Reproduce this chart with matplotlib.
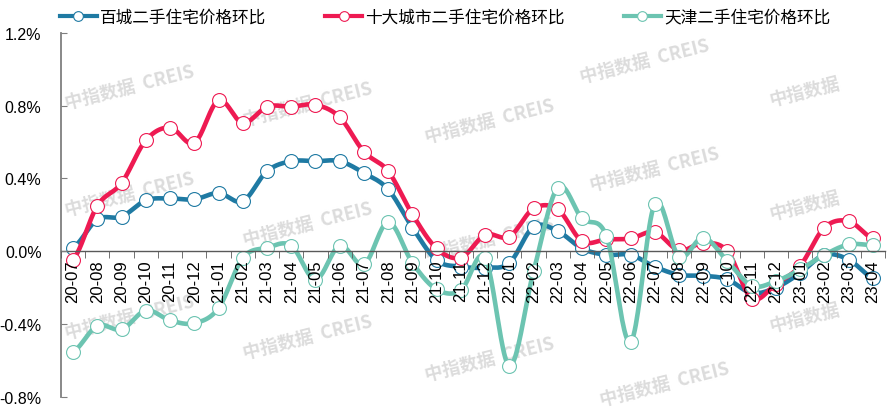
#!/usr/bin/env python3
import numpy as np
import matplotlib
matplotlib.use('Agg')
import matplotlib.pyplot as plt
from matplotlib.lines import Line2D

# month labels (yy-mm)
months = ['20-07', '20-08', '20-09', '20-10', '20-11', '20-12',
          '21-01', '21-02', '21-03', '21-04', '21-05', '21-06',
          '21-07', '21-08', '21-09', '21-10', '21-11', '21-12',
          '22-01', '22-02', '22-03', '22-04', '22-05', '22-06',
          '22-07', '22-08', '22-09', '22-10', '22-11', '22-12',
          '23-01', '23-02', '23-03', '23-04']

# month-on-month change, in %
bai_cheng = [0.02, 0.175, 0.19, 0.28, 0.29, 0.285, 0.32, 0.275, 0.44, 0.495,
             0.495, 0.495, 0.43, 0.34, 0.13, -0.05, -0.085, -0.09, -0.065, 0.135,
             0.11, 0.015, -0.02, -0.02, -0.085, -0.13, -0.135, -0.155, -0.23, -0.2,
             -0.12, -0.02, -0.046, -0.147]
shi_da = [-0.046, 0.25, 0.375, 0.61, 0.68, 0.595, 0.83, 0.705, 0.795, 0.795,
          0.805, 0.737, 0.547, 0.44, 0.203, 0.015, -0.035, 0.09, 0.08, 0.235,
          0.23, 0.055, 0.065, 0.07, 0.105, 0.005, 0.045, 0.0, -0.26, -0.18,
          -0.08, 0.13, 0.165, 0.07]
tianjin = [-0.553, -0.41, -0.43, -0.326, -0.38, -0.396, -0.313, -0.037, 0.019, 0.031,
           -0.156, 0.031, -0.073, 0.16, -0.064, -0.21, -0.215, -0.037, -0.63, -0.11,
           0.35, 0.18, 0.085, -0.5, 0.26, -0.03, 0.075, -0.055, -0.19, -0.165,
           -0.1, -0.02, 0.037, 0.033]

series_names = ['百城二手住宅价格环比', '十大城市二手住宅价格环比', '天津二手住宅价格环比']
colors = ['#1f7aa3', '#ee1a52', '#6cc4b1']

CJK = ['Noto Sans CJK SC', 'DejaVu Sans']
LATIN = 'Liberation Sans'


def smooth(y, n=24):
    """Excel-like smoothed line (Catmull-Rom bezier between points)"""
    y = np.asarray(y, dtype=float)
    xs, ys = [], []
    t = np.linspace(0, 1, n)
    for i in range(len(y) - 1):
        p0 = y[i - 1] if i > 0 else y[i]
        p3 = y[i + 2] if i + 2 < len(y) else y[i + 1]
        p1, p2 = y[i], y[i + 1]
        c1 = p1 + (p2 - p0) / 6
        c2 = p2 - (p3 - p1) / 6
        seg = (1 - t) ** 3 * p1 + 3 * (1 - t) ** 2 * t * c1 + 3 * (1 - t) * t ** 2 * c2 + t ** 3 * p2
        xs.append(i + t)
        ys.append(seg)
    return np.concatenate(xs), np.concatenate(ys)


fig = plt.figure(figsize=(8.88, 4.10), dpi=100)
ax = fig.add_axes([61 / 888, 12.3 / 410, 824 / 888, 363.7 / 410])

# watermark
marks = [(130, 88), (308, 105), (490, 122), (645, 62),
         (130, 195), (308, 225), (490, 240), (655, 170),
         (130, 318), (308, 338), (490, 360), (665, 385)]
for px, py in marks:
    ax.text(px / 888, 1 - py / 410, '中指数据  CREIS', transform=fig.transFigure,
            rotation=14, ha='center', va='center', fontsize=13, fontweight='bold',
            color='#dcdcdc', family=CJK, zorder=1, clip_on=False)
for px, py in [(805, 92), (805, 206), (805, 318)]:
    ax.text(px / 888, 1 - py / 410, '中指数据', transform=fig.transFigure,
            rotation=14, ha='center', va='center', fontsize=13, fontweight='bold',
            color='#dcdcdc', family=CJK, zorder=1, clip_on=False)

x = np.arange(len(months))
handles = []
for vals, name, c in zip([bai_cheng, shi_da, tianjin], series_names, colors):
    sx, sy = smooth(vals)
    ax.plot(sx, sy, color=c, lw=3.3, solid_capstyle='round', zorder=2)
    ax.plot(x, vals, ls='none', marker='o', ms=10, mfc='white', mec=c, mew=0.8, zorder=2)
    handles.append(Line2D([], [], color=c, lw=3, marker='o', ms=7, mfc='white', mec=c, mew=0.8))

ax.set_xlim(-0.5, len(months) - 0.5)
ax.set_ylim(-0.8, 1.2)

ax.spines['top'].set_visible(False)
ax.spines['right'].set_visible(False)
ax.spines['left'].set_color('#7f7f7f')
ax.spines['left'].set_linewidth(1.3)
ax.spines['bottom'].set_position(('data', 0))
ax.spines['bottom'].set_color('#595959')
ax.spines['bottom'].set_linewidth(1.0)
ax.set_axisbelow(False)

ax.set_xticks(x)
ax.set_xticklabels(months, rotation=90, fontsize=12, family=LATIN)
ax.set_xticks(np.arange(-0.5, len(months)), minor=True)
ax.tick_params(axis='x', which='major', length=0, pad=6)
ax.tick_params(axis='x', which='minor', length=5, direction='out', color='#595959')

yt = np.arange(-0.8, 1.21, 0.4)
ax.set_yticks(yt)
ax.set_yticklabels([f'{v:.1f}%' for v in yt], fontsize=11.5, family=LATIN)
ax.tick_params(axis='y', direction='in', length=4, color='#7f7f7f', pad=14)

fig.legend(handles, series_names, loc='center left', bbox_to_anchor=(60 / 888, 1 - 18 / 410),
           ncol=3, frameon=False, borderpad=0, borderaxespad=0, handlelength=2.2,
           handletextpad=0.2, columnspacing=3.55, prop={'family': CJK, 'size': 12})

fig.savefig('out.png', dpi=100)
